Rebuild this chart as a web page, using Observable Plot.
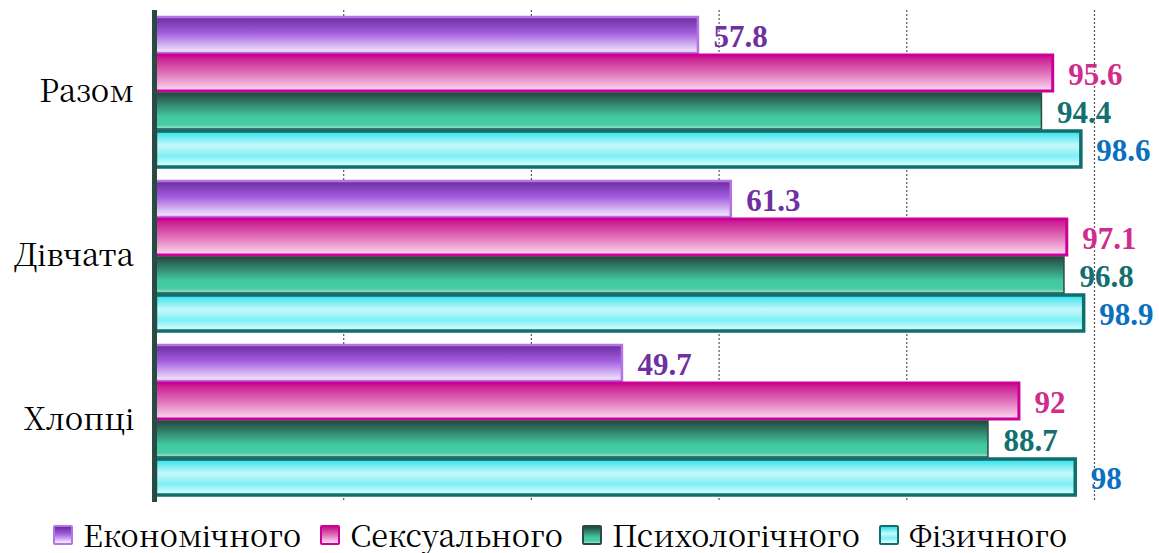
<!DOCTYPE html>
<html>
<head>
<meta charset="utf-8">
<script src="https://cdn.jsdelivr.net/npm/d3@7"></script>
<script src="https://cdn.jsdelivr.net/npm/@observablehq/plot@0.6"></script>
<style>
  html, body { margin: 0; padding: 0; background: #fff; }
  #chart { width: 1159px; height: 553px; overflow: hidden; }
  #chart svg { display: block; }
  .legend { display: flex; align-items: center; height: 43px; padding-top: 6px; padding-left: 53px; box-sizing: border-box; font-size: 30.5px; line-height: 31px; color: #000; font-family: 'Noto Serif CJK SC', 'Liberation Serif', serif; }
  .legend .item { display: flex; align-items: center; margin-right: 19px; }
  .legend .item span:last-child { line-height: 31px; }
  .legend .sw { width: 16px; height: 16px; border-radius: 2px; margin-right: 10px; box-sizing: content-box; }
</style>
</head>
<body>
<div id="chart"></div>
<script>
// ---- data ----
const groups = ["Разом", "Дівчата", "Хлопці"];
const series = ["Економічного", "Сексуального", "Психологічного", "Фізичного"];
const economic = [57.8, 61.3, 49.7];
const sexual = [95.6, 97.1, 92];
const psychological = [94.4, 96.8, 88.7];
const physical = [98.6, 98.9, 98];
const gridTicks = [20, 40, 60, 80, 100];

// ---- styles ----
const seriesValues = [economic, sexual, psychological, physical];
const gradIds = ["gEcon", "gSex", "gPsy", "gPhy"];
const gradStops = [
  [[0, "#6c2c9e"], [0.45, "#a45ee0"], [1, "#f6f0fd"]],
  [[0, "#c6108a"], [0.5, "#e070b8"], [1, "#fbdcf2"]],
  [[0, "#264840"], [0.65, "#42c8a0"], [0.88, "#48cca4"], [1, "#a8e4cc"]],
  [[0, "#2ee0ea"], [0.4, "#c4f9fc"], [0.7, "#7ef0f4"], [1, "#e6ffff"]]
];
const strokeColors = ["#b474e4", "#cc0099", "#2a4a44", "#0f6e6e"];
const strokeWidths = [2.5, 3, 1.5, 3.5];
const labelColors = ["#7030a0", "#d02c8c", "#127070", "#0a70c0"];

const rows = [];
groups.forEach((g, gi) => {
  series.forEach((s, si) => {
    rows.push({group: g, series: s, value: seriesValues[si][gi], si});
  });
});

const plot = Plot.plot({
  width: 1159,
  height: 510,
  marginLeft: 155.5,
  marginRight: 65,
  marginTop: 14,
  marginBottom: 12,
  style: {fontFamily: "'Noto Serif CJK SC', 'Liberation Serif', serif", fontSize: "31px", color: "#000", background: "transparent", overflow: "visible"},
  x: {domain: [0, 100], axis: null},
  y: {domain: series, padding: 0, axis: null},
  fy: {domain: groups, paddingInner: 0.06, paddingOuter: 0, axis: "left", label: null, tickSize: 0, tickPadding: 22},
  color: {type: "identity"},
  marks: [
    Plot.ruleX(gridTicks, {stroke: "#555", strokeWidth: 1.2, strokeDasharray: "2,2", insetTop: -5, insetBottom: -5}),
    Plot.barX(rows, {
      x: "value", y: "series", fy: "group",
      fill: d => `url(#${gradIds[d.si]})`,
      stroke: d => strokeColors[d.si],
      strokeWidth: d => strokeWidths[d.si],
      insetTop: 1, insetBottom: 1
    }),
    Plot.text(rows, {
      x: "value", y: "series", fy: "group",
      text: d => String(d.value),
      fill: d => labelColors[d.si],
      dx: 15, dy: 2, textAnchor: "start",
      fontWeight: "bold", fontSize: 31, fontFamily: "Liberation Serif"
    }),
    Plot.ruleX([0], {stroke: "#2a4a44", strokeWidth: 5, dx: -1.5, insetTop: -5, insetBottom: -5})
  ]
});

// gradient definitions
const svg = d3.select(plot);
const defs = svg.insert("defs", ":first-child");
gradIds.forEach((id, i) => {
  const lg = defs.append("linearGradient").attr("id", id).attr("x1", 0).attr("y1", 0).attr("x2", 0).attr("y2", 1);
  gradStops[i].forEach(([o, c]) => lg.append("stop").attr("offset", o).attr("stop-color", c));
});

const chart = document.getElementById("chart");
chart.appendChild(plot);

// legend
const legend = document.createElement("div");
legend.className = "legend";
series.forEach((s, i) => {
  const item = document.createElement("div");
  item.className = "item";
  const sw = document.createElement("span");
  sw.className = "sw";
  const stops = gradStops[i].map(([o, c]) => `${c} ${o * 100}%`).join(", ");
  sw.style.background = `linear-gradient(to bottom, ${stops})`;
  sw.style.border = `2px solid ${strokeColors[i]}`;
  const lab = document.createElement("span");
  lab.textContent = s;
  item.appendChild(sw);
  item.appendChild(lab);
  legend.appendChild(item);
});
chart.appendChild(legend);
</script>
</body>
</html>
